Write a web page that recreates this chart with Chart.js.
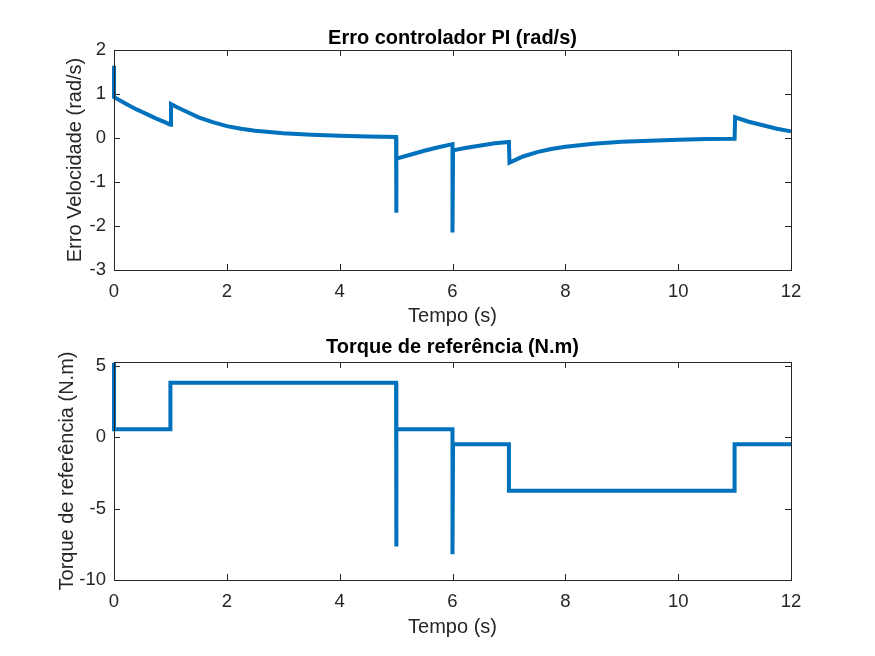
<!DOCTYPE html>
<html>
<head>
<meta charset="utf-8">
<script src="https://cdn.jsdelivr.net/npm/chart.js@4.4.1/dist/chart.umd.min.js"></script>
<style>
  html, body { margin: 0; padding: 0; background: #fff; }
  .plot { position: absolute; left: 0; width: 875px; height: 328px; }
</style>
</head>
<body>
<div class="plot" style="top:0"><canvas id="erroChart" width="875" height="328"></canvas></div>
<div class="plot" style="top:328px"><canvas id="torqueChart" width="875" height="328"></canvas></div>
<script>
// Erro de velocidade (rad/s), repeated times are the jumps
const tempoErro = [0, 0, 0.1, 0.25, 0.4, 0.5, 0.6, 0.75, 0.9, 1,
    1.01, 1.1, 1.25, 1.5, 1.75, 2, 2.25, 2.5, 2.75, 3, 3.5, 4, 4.5, 5,
    5, 5.01, 5.25, 5.5, 5.75, 6,
    6, 6.01, 6.25, 6.5, 6.75, 7,
    7.01, 7.25, 7.5, 7.75, 8, 8.5, 9, 9.5, 10, 10.5, 11,
    11.01, 11.25, 11.5, 11.75, 12];
const erroVel = [1.64, 0.93, 0.86, 0.75, 0.65, 0.59, 0.53, 0.44, 0.36, 0.3,
    0.77, 0.71, 0.62, 0.47, 0.36, 0.27, 0.21, 0.165, 0.135, 0.11, 0.075, 0.05, 0.035, 0.025,
    -1.7, -0.47, -0.38, -0.29, -0.21, -0.14,
    -2.15, -0.28, -0.22, -0.17, -0.12, -0.09,
    -0.56, -0.42, -0.32, -0.25, -0.2, -0.13, -0.085, -0.06, -0.04, -0.025, -0.015,
    0.47, 0.37, 0.29, 0.21, 0.15];

// Torque de referencia (N.m)
const tempoTorque = [0, 0, 1, 1, 5, 5, 5.01, 6, 6, 6.01, 7, 7, 11, 11, 12];
const torqueRef = [5.2, 0.55, 0.55, 3.8, 3.8, -7.65, 0.55, 0.55, -8.2, -0.5, -0.5, -3.75, -3.75, -0.5, -0.5];

const xTicks = [0, 2, 4, 6, 8, 10, 12];
const erroTicks = [-3, -2, -1, 0, 1, 2];
const torqueTicks = [-10, -5, 0, 5];

const lineColor = '#0072BD';
const axisColor = '#262626';
const fontFamily = '"Liberation Sans", Arial, Helvetica, sans-serif';

// MATLAB style box with inward ticks on all four sides
const matlabBox = {
    id: 'matlabBox',
    afterDatasetsDraw(chart) {
        const { ctx, chartArea: a, scales: { x, y } } = chart;
        ctx.save();
        ctx.strokeStyle = axisColor;
        ctx.lineWidth = 1;
        ctx.strokeRect(a.left + 0.5, a.top + 0.5, a.right - a.left, a.bottom - a.top);
        ctx.beginPath();
        x.ticks.forEach(t => {
            const px = Math.round(x.getPixelForValue(t.value)) + 0.5;
            ctx.moveTo(px, a.bottom); ctx.lineTo(px, a.bottom - 6);
            ctx.moveTo(px, a.top); ctx.lineTo(px, a.top + 6);
        });
        y.ticks.forEach(t => {
            const py = Math.round(y.getPixelForValue(t.value)) + 0.5;
            ctx.moveTo(a.left, py); ctx.lineTo(a.left + 6, py);
            ctx.moveTo(a.right, py); ctx.lineTo(a.right - 6, py);
        });
        ctx.stroke();
        ctx.restore();
    }
};

function makeChart(id, times, values, yTicks, yMin, yMax, title, yLabel, opts) {
    const points = times.map((t, i) => ({ x: t, y: values[i] }));
    return new Chart(document.getElementById(id).getContext('2d'), {
        type: 'line',
        data: {
            datasets: [{
                data: points,
                borderColor: lineColor,
                borderWidth: 4,
                pointRadius: 0,
                tension: 0,
                fill: false,
                clip: { left: 3, right: 3, top: 0, bottom: 0 }
            }]
        },
        options: {
            responsive: false,
            animation: false,
            events: [],
            layout: { padding: { left: 0, right: 84, top: 0, bottom: 0 } },
            plugins: {
                legend: { display: false },
                tooltip: { enabled: false },
                title: {
                    display: true,
                    fullSize: false,
                    text: title,
                    color: '#000',
                    font: { family: fontFamily, size: 20, weight: 'bold', lineHeight: 1.2 },
                    padding: { top: opts.titleTop, bottom: opts.titleBottom }
                }
            },
            scales: {
                x: {
                    type: 'linear',
                    min: 0,
                    max: 12,
                    afterBuildTicks: s => { s.ticks = xTicks.map(v => ({ value: v })); },
                    afterFit: s => { s.height = opts.xHeight; },
                    grid: { display: false, drawTicks: false },
                    border: { display: false },
                    ticks: { color: axisColor, padding: 11, font: { family: fontFamily, size: 18.5 } },
                    title: {
                        display: true,
                        text: 'Tempo (s)',
                        color: axisColor,
                        font: { family: fontFamily, size: 20, lineHeight: 1.2 },
                        padding: { top: 0, bottom: opts.xTitleBottom }
                    }
                },
                y: {
                    type: 'linear',
                    min: yMin,
                    max: yMax,
                    afterBuildTicks: s => { s.ticks = yTicks.map(v => ({ value: v })); },
                    afterFit: s => { s.width = 114; },
                    grid: { display: false, drawTicks: false },
                    border: { display: false },
                    ticks: { color: axisColor, padding: 8, font: { family: fontFamily, size: 18.5 } },
                    title: {
                        display: true,
                        text: yLabel,
                        color: axisColor,
                        font: { family: fontFamily, size: 20, lineHeight: 1.2 },
                        padding: { top: opts.yTitleLeft, bottom: 0 }
                    }
                }
            }
        },
        plugins: [matlabBox]
    });
}

makeChart('erroChart', tempoErro, erroVel, erroTicks, -3, 2,
    'Erro controlador PI (rad/s)', 'Erro Velocidade (rad/s)',
    { titleTop: 26, titleBottom: 0, xHeight: 58, xTitleBottom: 0, yTitleLeft: 63 });

makeChart('torqueChart', tempoTorque, torqueRef, torqueTicks, -10, 5.25,
    'Torque de referência (N.m)', 'Torque de referência (N.m)',
    { titleTop: 7, titleBottom: 3, xHeight: 76, xTitleBottom: 17, yTitleLeft: 55 });
</script>
</body>
</html>
